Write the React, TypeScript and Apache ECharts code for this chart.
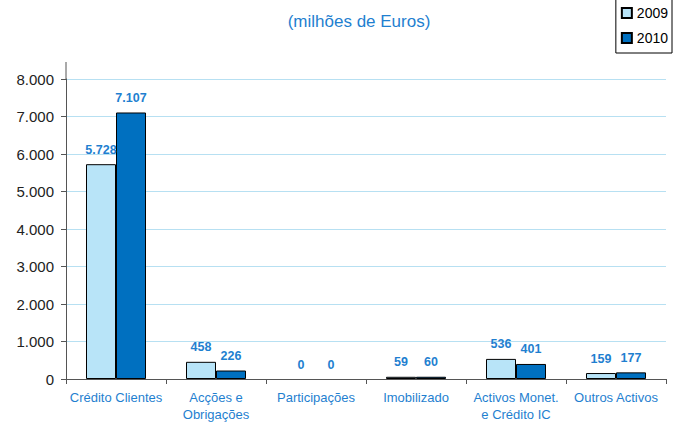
import React, { useEffect, useRef } from "react";
import * as echarts from "echarts";

const categories = [
  "Crédito Clientes",
  "Acções e\nObrigações",
  "Participações",
  "Imobilizado",
  "Activos Monet.\ne Crédito IC",
  "Outros Activos",
];
const seriesNames = ["2009", "2010"];
const values2009 = [5728, 458, 0, 59, 536, 159];
const values2010 = [7107, 226, 0, 60, 401, 177];
const subtitle = "(milhões de Euros)";

const fmt = (v: number) => String(v).replace(/\B(?=(\d{3})+(?!\d))/g, ".");

export default function App() {
  const ref = useRef<HTMLDivElement>(null);
  useEffect(() => {
    document.body.style.margin = "0";
    const chart = echarts.init(ref.current!, undefined, { renderer: "svg" });
    const font = "'Liberation Sans'";
    const label = {
      show: true,
      position: "top" as const,
      distance: 8,
      color: "#1f7fd0",
      fontWeight: "bold" as const,
      fontSize: 12.5,
      fontFamily: font,
      formatter: (p: any) => fmt(p.value),
    };
    const toData = (arr: number[]) =>
      arr.map((v) => (v === 0 ? { value: v, itemStyle: { borderWidth: 0 } } : v));
    chart.setOption({
      animation: false,
      backgroundColor: "#fff",
      textStyle: { fontFamily: font },
      title: {
        text: subtitle,
        left: 354,
        textAlign: "center",
        top: 8,
        textStyle: { color: "#1f7fd0", fontSize: 17, fontWeight: "normal", fontFamily: font },
      },
      legend: {
        orient: "vertical",
        right: 9,
        top: -1,
        icon: "rect",
        itemWidth: 10,
        itemHeight: 10,
        itemGap: 11,
        padding: [7, 4, 8, 5],
        borderColor: "#000",
        borderWidth: 1,
        backgroundColor: "#fff",
        textStyle: { color: "#000", fontSize: 14, fontFamily: font, padding: [0, 0, 0, 0] },
        data: seriesNames,
      },
      grid: { left: 66, right: 15, top: 79, bottom: 44, containLabel: false },
      graphic: [
        {
          type: "line",
          shape: { x1: 66, y1: 62, x2: 66, y2: 79 },
          style: { stroke: "#555", lineWidth: 1 },
        },
      ],
      xAxis: {
        type: "category",
        data: categories,
        axisLine: { lineStyle: { color: "#555", width: 1 } },
        axisTick: { show: true, alignWithLabel: false, length: 5, lineStyle: { color: "#555" } },
        axisLabel: { color: "#1f7fd0", fontSize: 13, fontFamily: font, margin: 10, lineHeight: 17, interval: 0 },
        splitLine: { show: false },
      },
      yAxis: {
        type: "value",
        min: 0,
        max: 8000,
        interval: 1000,
        axisLine: { show: true, lineStyle: { color: "#555", width: 1 } },
        axisTick: { show: true, length: 5, lineStyle: { color: "#555" } },
        axisLabel: { color: "#222", fontSize: 15, fontFamily: font, margin: 12, formatter: (v: number) => fmt(v) },
        splitLine: { show: true, lineStyle: { color: "#b7e0f2", width: 1 } },
      },
      series: [
        {
          name: seriesNames[0],
          type: "bar",
          data: toData(values2009),
          barWidth: 30,
          barGap: "0%",
          itemStyle: { color: "#b8e4f8", borderColor: "#000", borderWidth: 1 },
          label,
        },
        {
          name: seriesNames[1],
          type: "bar",
          data: toData(values2010),
          barWidth: 30,
          barGap: "0%",
          itemStyle: { color: "#0070c0", borderColor: "#000", borderWidth: 1 },
          label,
        },
      ],
    });
    return () => chart.dispose();
  }, []);
  return <div ref={ref} style={{ width: 681, height: 423 }} />;
}
